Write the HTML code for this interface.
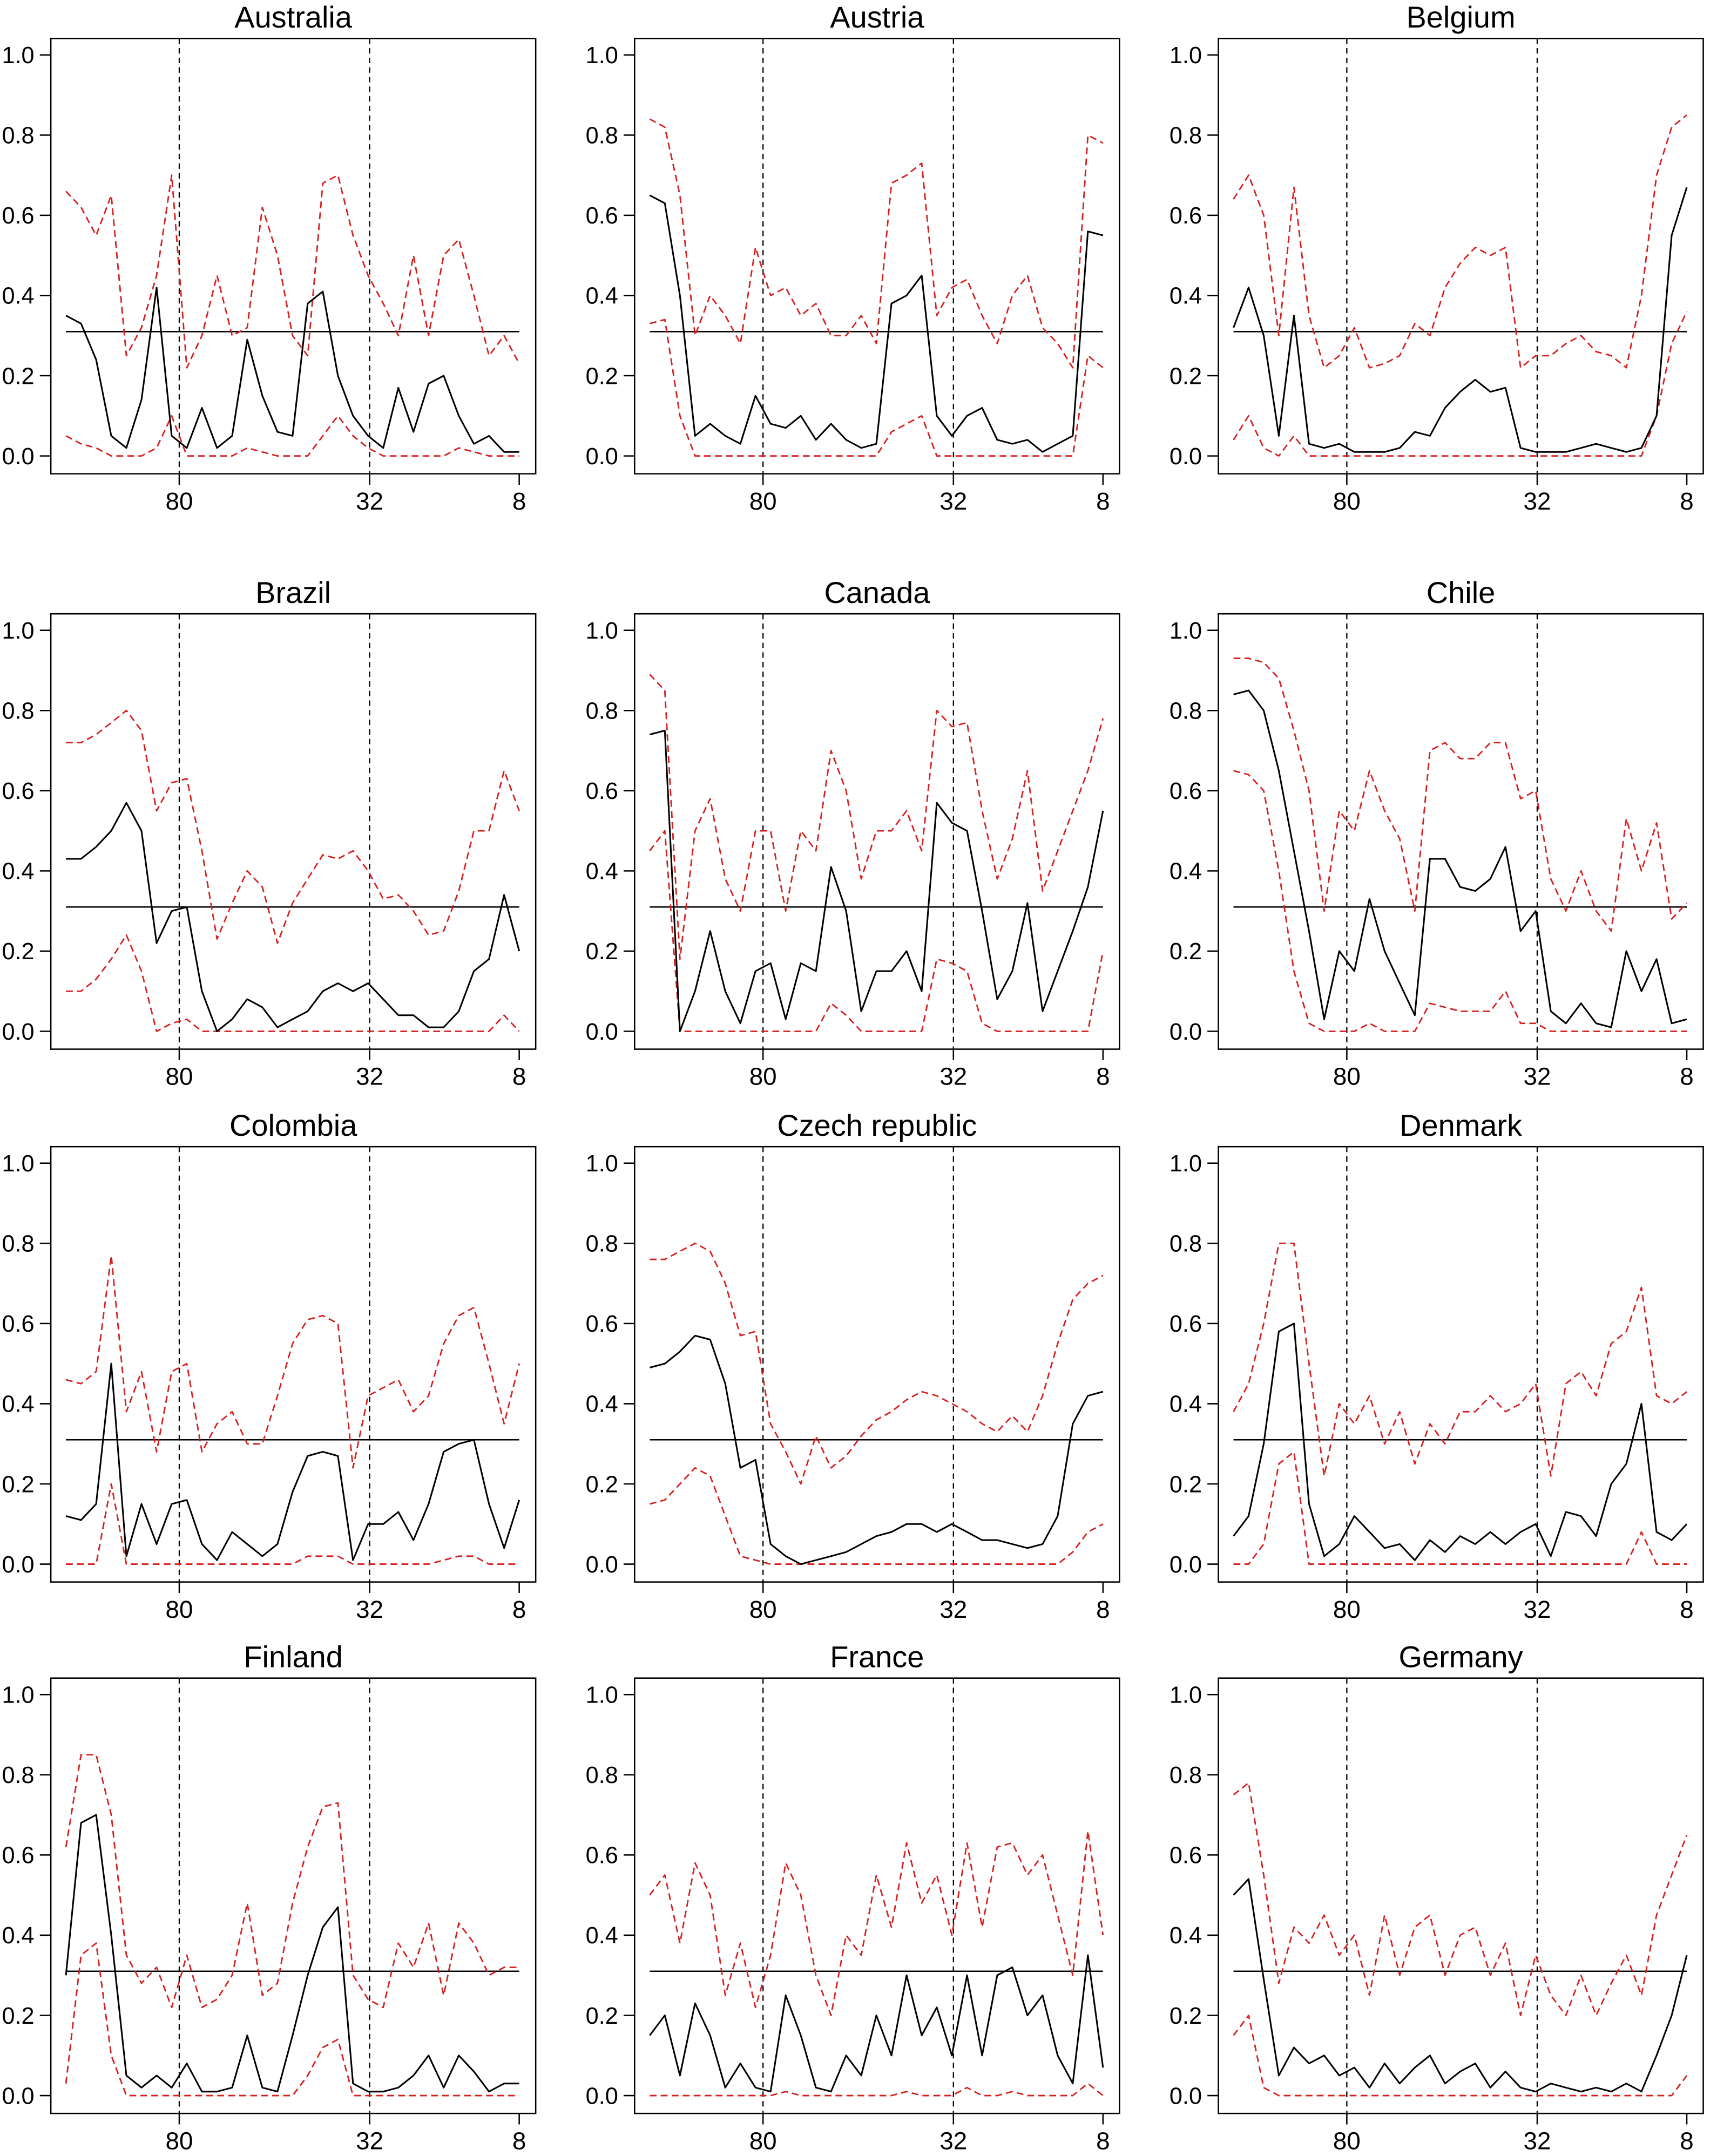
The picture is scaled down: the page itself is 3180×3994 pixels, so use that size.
<!DOCTYPE html>
<html><head><meta charset="utf-8"><style>
html,body{margin:0;padding:0;background:#fff;}
svg{display:block;}
text{font-family:"Liberation Sans",Arial,sans-serif;}
</style></head><body>
<svg id="chart" xmlns="http://www.w3.org/2000/svg" width="3180" height="3994" viewBox="0 0 1250 1570" preserveAspectRatio="none"></svg>
<script>
const countries=["Australia","Austria","Belgium","Brazil","Canada","Chile","Colombia","Czech republic","Denmark","Finland","France","Germany"];
const xTickLabels=["80","32","8"];
const yTickLabels=["0.0","0.2","0.4","0.6","0.8","1.0"];
const yTickValues=[0,0.2,0.4,0.6,0.8,1.0];
const thresholdValue=0.31;
const meanAustralia=[0.35,0.33,0.24,0.05,0.02,0.14,0.42,0.05,0.02,0.12,0.02,0.05,0.29,0.15,0.06,0.05,0.38,0.41,0.2,0.1,0.05,0.02,0.17,0.06,0.18,0.2,0.1,0.03,0.05,0.01,0.01];
const upperAustralia=[0.66,0.62,0.55,0.65,0.25,0.32,0.45,0.70,0.22,0.30,0.45,0.30,0.32,0.62,0.50,0.30,0.25,0.68,0.70,0.55,0.45,0.38,0.30,0.50,0.30,0.50,0.54,0.40,0.25,0.30,0.23];
const lowerAustralia=[0.05,0.03,0.02,0,0,0,0.02,0.1,0,0,0,0,0.02,0.01,0,0,0,0.05,0.1,0.05,0.02,0,0,0,0,0,0.02,0.01,0,0,0];
const meanAustria=[0.65,0.63,0.4,0.05,0.08,0.05,0.03,0.15,0.08,0.07,0.1,0.04,0.08,0.04,0.02,0.03,0.38,0.40,0.45,0.1,0.05,0.1,0.12,0.04,0.03,0.04,0.01,0.03,0.05,0.56,0.55];
const upperAustria=[0.84,0.82,0.65,0.3,0.4,0.35,0.28,0.52,0.4,0.42,0.35,0.38,0.3,0.3,0.35,0.28,0.68,0.70,0.73,0.35,0.42,0.44,0.35,0.28,0.40,0.45,0.32,0.28,0.22,0.80,0.78];
const lowerAustria=[0.33,0.34,0.1,0,0,0,0,0,0,0,0,0,0,0,0,0,0.06,0.08,0.1,0,0,0,0,0,0,0,0,0,0,0.25,0.22];
const meanBelgium=[0.32,0.42,0.3,0.05,0.35,0.03,0.02,0.03,0.01,0.01,0.01,0.02,0.06,0.05,0.12,0.16,0.19,0.16,0.17,0.02,0.01,0.01,0.01,0.02,0.03,0.02,0.01,0.02,0.1,0.55,0.67];
const upperBelgium=[0.64,0.70,0.6,0.3,0.67,0.35,0.22,0.25,0.32,0.22,0.23,0.25,0.33,0.30,0.42,0.48,0.52,0.50,0.52,0.22,0.25,0.25,0.28,0.30,0.26,0.25,0.22,0.40,0.70,0.82,0.85];
const lowerBelgium=[0.04,0.1,0.02,0,0.05,0,0,0,0,0,0,0,0,0,0,0,0,0,0,0,0,0,0,0,0,0,0,0,0.1,0.28,0.36];
const meanBrazil=[0.43,0.43,0.46,0.5,0.57,0.5,0.22,0.3,0.31,0.1,0,0.03,0.08,0.06,0.01,0.03,0.05,0.1,0.12,0.1,0.12,0.08,0.04,0.04,0.01,0.01,0.05,0.15,0.18,0.34,0.2];
const upperBrazil=[0.72,0.72,0.74,0.77,0.8,0.75,0.55,0.62,0.63,0.45,0.23,0.32,0.40,0.36,0.22,0.32,0.38,0.44,0.43,0.45,0.40,0.33,0.34,0.30,0.24,0.25,0.35,0.50,0.50,0.65,0.55];
const lowerBrazil=[0.1,0.1,0.13,0.18,0.24,0.15,0,0.02,0.03,0,0,0,0,0,0,0,0,0,0,0,0,0,0,0,0,0,0,0,0,0.04,0];
const meanCanada=[0.74,0.75,0,0.1,0.25,0.1,0.02,0.15,0.17,0.03,0.17,0.15,0.41,0.3,0.05,0.15,0.15,0.2,0.1,0.57,0.52,0.5,0.3,0.08,0.15,0.32,0.05,0.15,0.25,0.36,0.55];
const upperCanada=[0.89,0.85,0.18,0.5,0.58,0.38,0.3,0.5,0.5,0.3,0.5,0.45,0.7,0.6,0.38,0.5,0.5,0.55,0.45,0.8,0.76,0.77,0.55,0.38,0.48,0.65,0.35,0.45,0.55,0.65,0.78];
const lowerCanada=[0.45,0.5,0,0,0,0,0,0,0,0,0,0,0.07,0.04,0,0,0,0,0,0.18,0.17,0.15,0.02,0,0,0,0,0,0,0,0.2];
const meanChile=[0.84,0.85,0.8,0.65,0.45,0.25,0.03,0.2,0.15,0.33,0.2,0.12,0.04,0.43,0.43,0.36,0.35,0.38,0.46,0.25,0.3,0.05,0.02,0.07,0.02,0.01,0.2,0.1,0.18,0.02,0.03];
const upperChile=[0.93,0.93,0.92,0.88,0.75,0.6,0.3,0.55,0.5,0.65,0.55,0.48,0.3,0.7,0.72,0.68,0.68,0.72,0.72,0.58,0.6,0.38,0.3,0.4,0.3,0.25,0.53,0.4,0.52,0.28,0.32];
const lowerChile=[0.65,0.64,0.6,0.4,0.15,0.02,0,0,0,0.02,0,0,0,0.07,0.06,0.05,0.05,0.05,0.1,0.02,0.02,0,0,0,0,0,0,0,0,0,0];
const meanColombia=[0.12,0.11,0.15,0.5,0.02,0.15,0.05,0.15,0.16,0.05,0.01,0.08,0.05,0.02,0.05,0.18,0.27,0.28,0.27,0.01,0.1,0.1,0.13,0.06,0.15,0.28,0.3,0.31,0.15,0.04,0.16];
const upperColombia=[0.46,0.45,0.48,0.77,0.38,0.48,0.28,0.48,0.50,0.28,0.35,0.38,0.30,0.30,0.42,0.55,0.61,0.62,0.6,0.24,0.42,0.44,0.46,0.38,0.42,0.55,0.62,0.64,0.50,0.35,0.50];
const lowerColombia=[0,0,0,0.2,0,0,0,0,0,0,0,0,0,0,0,0,0.02,0.02,0.02,0,0,0,0,0,0,0.01,0.02,0.02,0,0,0];
const meanCzech=[0.49,0.5,0.53,0.57,0.56,0.45,0.24,0.26,0.05,0.02,0,0.01,0.02,0.03,0.05,0.07,0.08,0.1,0.1,0.08,0.1,0.08,0.06,0.06,0.05,0.04,0.05,0.12,0.35,0.42,0.43];
const upperCzech=[0.76,0.76,0.78,0.8,0.78,0.7,0.57,0.58,0.35,0.28,0.2,0.32,0.24,0.27,0.32,0.36,0.38,0.41,0.43,0.42,0.4,0.38,0.35,0.33,0.37,0.33,0.42,0.55,0.66,0.70,0.72];
const lowerCzech=[0.15,0.16,0.2,0.24,0.22,0.12,0.02,0.01,0,0,0,0,0,0,0,0,0,0,0,0,0,0,0,0,0,0,0,0,0.03,0.08,0.1];
const meanDenmark=[0.07,0.12,0.3,0.58,0.6,0.15,0.02,0.05,0.12,0.08,0.04,0.05,0.01,0.06,0.03,0.07,0.05,0.08,0.05,0.08,0.1,0.02,0.13,0.12,0.07,0.2,0.25,0.4,0.08,0.06,0.1];
const upperDenmark=[0.38,0.45,0.6,0.8,0.8,0.5,0.22,0.4,0.35,0.42,0.3,0.38,0.25,0.35,0.3,0.38,0.38,0.42,0.38,0.4,0.45,0.22,0.45,0.48,0.42,0.55,0.58,0.69,0.42,0.40,0.43];
const lowerDenmark=[0,0,0.05,0.25,0.28,0,0,0,0,0,0,0,0,0,0,0,0,0,0,0,0,0,0,0,0,0,0,0.08,0,0,0];
const meanFinland=[0.3,0.68,0.7,0.4,0.05,0.02,0.05,0.02,0.08,0.01,0.01,0.02,0.15,0.02,0.01,0.15,0.3,0.42,0.47,0.03,0.01,0.01,0.02,0.05,0.1,0.02,0.1,0.06,0.01,0.03,0.03];
const upperFinland=[0.62,0.85,0.85,0.7,0.35,0.28,0.32,0.22,0.35,0.22,0.24,0.3,0.48,0.25,0.28,0.48,0.62,0.72,0.73,0.3,0.24,0.22,0.38,0.32,0.43,0.25,0.43,0.38,0.3,0.32,0.32];
const lowerFinland=[0.03,0.35,0.38,0.1,0,0,0,0,0,0,0,0,0,0,0,0,0.05,0.12,0.14,0,0,0,0,0,0,0,0,0,0,0,0];
const meanFrance=[0.15,0.2,0.05,0.23,0.15,0.02,0.08,0.02,0.01,0.25,0.15,0.02,0.01,0.1,0.05,0.2,0.1,0.3,0.15,0.22,0.1,0.3,0.1,0.3,0.32,0.2,0.25,0.1,0.03,0.35,0.07];
const upperFrance=[0.5,0.55,0.38,0.58,0.5,0.25,0.38,0.22,0.35,0.58,0.5,0.3,0.2,0.4,0.35,0.55,0.42,0.63,0.48,0.55,0.4,0.63,0.42,0.62,0.63,0.55,0.6,0.45,0.3,0.66,0.4];
const lowerFrance=[0,0,0,0,0,0,0,0,0,0.01,0,0,0,0,0,0,0,0.01,0,0,0,0.02,0,0,0.01,0,0,0,0,0.03,0];
const meanGermany=[0.5,0.54,0.29,0.05,0.12,0.08,0.1,0.05,0.07,0.02,0.08,0.03,0.07,0.1,0.03,0.06,0.08,0.02,0.06,0.02,0.01,0.03,0.02,0.01,0.02,0.01,0.03,0.01,0.1,0.2,0.35];
const upperGermany=[0.75,0.78,0.55,0.28,0.42,0.38,0.45,0.35,0.40,0.25,0.45,0.3,0.42,0.45,0.3,0.4,0.42,0.3,0.38,0.2,0.35,0.25,0.2,0.3,0.2,0.28,0.35,0.25,0.45,0.55,0.65];
const lowerGermany=[0.15,0.2,0.02,0,0,0,0,0,0,0,0,0,0,0,0,0,0,0,0,0,0,0,0,0,0,0,0,0,0,0,0.05];

const means=[meanAustralia,meanAustria,meanBelgium,meanBrazil,meanCanada,meanChile,meanColombia,meanCzech,meanDenmark,meanFinland,meanFrance,meanGermany];
const uppers=[upperAustralia,upperAustria,upperBelgium,upperBrazil,upperCanada,upperChile,upperColombia,upperCzech,upperDenmark,upperFinland,upperFrance,upperGermany];
const lowers=[lowerAustralia,lowerAustria,lowerBelgium,lowerBrazil,lowerCanada,lowerChile,lowerColombia,lowerCzech,lowerDenmark,lowerFinland,lowerFrance,lowerGermany];

const NS="http://www.w3.org/2000/svg";
const svg=document.getElementById('chart');
const colLeft=[37,462,887], rowTop=[28,447,835,1222];
const W=353,H=317;
const tickFrac=[0.25,0.67,1.0];
function mk(tag,attrs,parent){const e=document.createElementNS(NS,tag);for(const k in attrs)e.setAttribute(k,attrs[k]);parent.appendChild(e);return e;}
function slug(s){return s.toLowerCase().replace(/\s+/g,'-');}

countries.forEach((name,p)=>{
  const L=colLeft[p%3], T=rowTop[Math.floor(p/3)];
  const x0=L+11, x1=L+341;
  const xs=f=>x0+f*(x1-x0);
  const ys=v=>T+304-v*292;
  const g=mk('g',{},svg);
  
  
  const t=mk('text',{x:L+W/2,y:T-8,'font-size':22,'text-anchor':'middle',fill:'#000'},g);
  t.textContent=name;
  
  
  const box=mk('rect',{x:L,y:T,width:W,height:H,fill:'none',stroke:'#000','stroke-width':1},g);
  
  
  yTickValues.forEach((v,i)=>{
    mk('line',{x1:L-8,x2:L,y1:ys(v),y2:ys(v),stroke:'#000','stroke-width':1},g);
    const yt=mk('text',{x:L-12,y:ys(v)+6,'font-size':17,'text-anchor':'end',fill:'#000'},g);
    yt.textContent=yTickLabels[i];
    
    
  });
  xTickLabels.forEach((lab,i)=>{
    const x=xs(tickFrac[i]);
    mk('line',{x1:x,x2:x,y1:T+H,y2:T+H+8,stroke:'#000','stroke-width':1},g);
    const xt=mk('text',{x:x,y:T+H+26,'font-size':18,'text-anchor':'middle',fill:'#000'},g);
    xt.textContent=lab;
    
    
    if(i<2){
      const vl=mk('line',{x1:x,x2:x,y1:T,y2:T+H,stroke:'#000','stroke-width':0.9,'stroke-dasharray':'4 3'},g);
      
      
    }
  });
  const hl=mk('line',{x1:x0,x2:x1,y1:ys(thresholdValue),y2:ys(thresholdValue),stroke:'#000','stroke-width':1},g);
  
  
  function series(arr,color,dash,sw,nm){
    const n=arr.length;
    const pts=arr.map((v,i)=>xs(i/(n-1)).toFixed(1)+','+ys(v).toFixed(1)).join(' ');
    const a={points:pts,fill:'none',stroke:color,'stroke-width':sw,'stroke-linejoin':'round'};
    if(dash)a['stroke-dasharray']=dash;
    const pl=mk('polyline',a,g);
    
    
  }
  series(uppers[p],'#d62020','5 3',1.1,'upper-bound-line');
  series(lowers[p],'#d62020','5 3',1.1,'lower-bound-line');
  series(means[p],'#000','',1.2,'mean-line');
});
</script>
</body></html>
